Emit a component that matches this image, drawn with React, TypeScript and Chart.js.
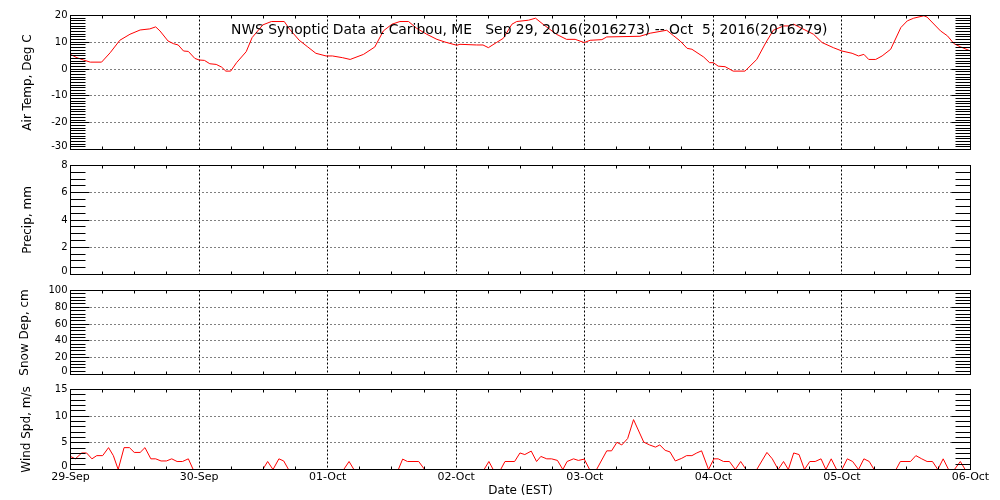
import React, { useEffect, useRef } from "react";
import { Chart, registerables } from "chart.js";
Chart.register(...registerables);

// ---------------- DATA ----------------
const chartTitle = "NWS Synoptic Data at Caribou, ME   Sep 29, 2016(2016273) -- Oct  5, 2016(2016279)";
const xAxisTitle = "Date (EST)";
const dayLabels = ["29-Sep", "30-Sep", "01-Oct", "02-Oct", "03-Oct", "04-Oct", "05-Oct", "06-Oct"];

// hours since 29-Sep 00:00 EST
const tempHours = [
  0, 1.2, 2.4, 3.7, 5.8, 7.4, 9.2, 11.1, 13, 14.8, 15.9, 16.7, 18.2, 19.2, 20.1, 21.1, 22, 23.2,
  24, 25, 26, 27.2, 28.2, 29, 29.9, 31, 32.8, 33.9, 35.9, 37.5, 39.9, 40.9, 42.7, 44.3, 45.8, 47.7,
  48.9, 50.8, 52.2, 54.7, 56.8, 58.4, 60, 61.5, 63.1, 64.6, 66.5, 68.4, 69.9,
  72.1, 72.7, 75.8, 77, 78, 79.5, 80.8, 82.4, 83.3, 85.5, 86.8, 88.2, 90.7, 92.6, 94.2, 95.9,
  97, 99.2, 100.1, 106.3, 108.2, 111.3, 112.6, 113.8, 115.1, 116, 118.2, 119.3,
  120, 120.9, 122.2, 123.7, 125.9, 128.1, 129.8, 131.2, 133.1, 134, 135, 136.2, 138.7, 140.3, 142.4,
  144, 145.9, 147.1, 148.1, 149, 150.3, 151.5, 153.1, 155, 156.2, 157.4, 159.3, 159.9, 162.4, 163.7, 164.9, 166.2, 168,
];
const tempValues = [
  5.5, 4.25, 3.4, 2.6, 2.6, 6.1, 10.75, 13, 14.6, 15, 15.75, 14.25, 10.5, 9.5, 9, 6.75, 6.6, 4,
  3.4, 3.25, 2, 1.75, 0.75, -0.75, -0.75, 2.4, 6.5, 11.75, 16.5, 17.75, 17.75, 14.9, 10.75, 8.25, 5.9, 4.9,
  4.9, 4.25, 3.6, 5.5, 8.25, 14.25, 16.75, 17.75, 17.75, 15.25, 13, 11.1, 10.1,
  8.9, 9.25, 9, 9, 8, 9.9, 11.5, 16.75, 17.75, 18.25, 19, 16.75, 13, 11.1, 11.1, 9.9,
  10.75, 11, 12, 12.25, 13.4, 14.5, 12.4, 10.5, 7.75, 7.4, 4.5, 2.4,
  2.4, 1.1, 0.9, -0.75, -0.75, 3.6, 9.9, 14.5, 16.1, 16.1, 16.75, 15.5, 13, 9.9, 8,
  6.75, 5.9, 4.9, 5.5, 3.6, 3.6, 4.9, 7.4, 15.5, 18, 19, 19.9, 19.4, 14.25, 12.4, 9.5, 8.25, 6.75,
];

const precipHours: number[] = [];
const precipValues: number[] = [];
const snowHours: number[] = [];
const snowValues: number[] = [];

const windHours = [
  0, 0.9, 2.1, 3, 4, 4.9, 6, 7.1, 8, 8.9, 10, 11, 11.9, 13, 13.9, 15, 15.9, 16.9, 17.9, 18.9, 19.9, 20.9, 22, 22.9,
  35.9, 36.8, 37.8, 38.9, 39.8, 40.7, 51, 52, 52.9, 61.2, 62, 62.9, 65, 66.1,
  77.2, 78.1, 78.9, 80.3, 81.1, 82.9, 83.9, 84.8, 86, 87, 87.8, 88.9, 89.8, 90.9, 91.9, 92.7, 93.9, 94.8, 95.9,
  96.9, 98.2, 100.1, 101, 102, 102.9, 104, 105.1, 107, 108.1, 109.2, 110, 111, 111.9, 112.9, 114.1, 115, 116,
  116.9, 117.8, 119.1, 120.1, 120.9, 121.9, 123, 124.1, 125.1, 126.1, 128.1, 130, 131, 132.1, 133.1, 134, 135,
  136, 137, 138, 139, 140.1, 141, 142, 143, 144, 145, 146, 147.1, 148.1, 149.1, 150, 154.1, 154.9, 156.8,
  157.8, 158.9, 159.9, 160.9, 161.9, 162.9, 163.9, 165, 166.1, 167, 168,
];
const windValues = [
  2.45, 2, 3.1, 3.1, 2, 2.6, 2.6, 4.1, 2.6, 0, 4.1, 4.1, 3.2, 3.2, 4.1, 2, 2, 1.6, 1.6, 2, 1.5, 1.5, 2, 0,
  0, 1.5, 0, 2, 1.6, 0, 0, 1.5, 0, 0, 1.95, 1.5, 1.5, 0,
  0, 1.5, 0, 0, 1.5, 1.5, 3.1, 2.8, 3.45, 1.5, 2.45, 2, 2, 1.7, 0, 1.5, 2, 1.7, 1.95,
  0, 0, 3.5, 3.5, 5.1, 4.6, 5.8, 9.35, 5.15, 4.6, 4.2, 4.6, 3.6, 3.3, 1.6, 2.1, 2.6, 2.6,
  3.1, 3.5, 0, 2, 2, 1.5, 1.5, 0, 1.5, 0, 0, 3.2, 2, 0, 1.5, 0, 3.1,
  2.8, 0, 1.5, 1.5, 2, 0, 2, 0, 0, 2, 1.5, 0, 2, 1.5, 0, 0, 1.5, 1.5,
  2.6, 2, 1.5, 1.5, 0, 2, 0, 0, 1.5, 0, 0,
];

const tempTicks = [-30, -20, -10, 0, 10, 20];
const precipTicks = [0, 2, 4, 6, 8];
const snowTicks = [0, 20, 40, 60, 80, 100];
const windTicks = [0, 5, 10, 15];

// ---------------- LAYOUT / STYLE ----------------
const FONT = "'DejaVu Sans', sans-serif";
const PLOT_LEFT = 70.5;
const PLOT_RIGHT = 970.5;
const HOURS_TOTAL = 168;

type PanelCfg = {
  top: number;
  bottom: number;
  ticks: number[];
  minorStep: number;
  yTitle: string;
  yTitleX: number;
  hours: number[];
  values: number[];
  showTitle?: boolean;
  showDates?: boolean;
};

const panels: PanelCfg[] = [
  { top: 15, bottom: 149, ticks: tempTicks, minorStep: 1, yTitle: "Air Temp, Deg C", yTitleX: 28, hours: tempHours, values: tempValues, showTitle: true },
  { top: 165, bottom: 274, ticks: precipTicks, minorStep: 0.5, yTitle: "Precip, mm", yTitleX: 28, hours: precipHours, values: precipValues },
  { top: 290, bottom: 374, ticks: snowTicks, minorStep: 4, yTitle: "Snow Dep, cm", yTitleX: 25, hours: snowHours, values: snowValues },
  { top: 389, bottom: 469, ticks: windTicks, minorStep: 1, yTitle: "Wind Spd, m/s", yTitleX: 27, hours: windHours, values: windValues, showDates: true },
];

function crisp(v: number) {
  return Math.floor(v) + 0.5;
}

function makePlugin(cfg: PanelCfg) {
  return {
    id: "idlAxes",
    beforeDatasetsDraw(chart: any) {
      const ctx: CanvasRenderingContext2D = chart.ctx;
      const xs = chart.scales.x;
      const ys = chart.scales.y;
      const area = chart.chartArea;
      const yMin = Math.min(...cfg.ticks);
      const yMax = Math.max(...cfg.ticks);
      ctx.save();
      ctx.strokeStyle = "#000";
      ctx.lineWidth = 1;
      ctx.setLineDash([1, 3]);
      for (const t of cfg.ticks) {
        if (t === yMin || t === yMax) continue;
        const y = crisp(ys.getPixelForValue(t));
        ctx.beginPath();
        ctx.moveTo(area.left, y);
        ctx.lineTo(area.right, y);
        ctx.stroke();
      }
      ctx.setLineDash([2, 2]);
      for (let d = 1; d < dayLabels.length - 1; d++) {
        const x = crisp(xs.getPixelForValue(d * 24));
        ctx.beginPath();
        ctx.moveTo(x, area.top);
        ctx.lineTo(x, area.bottom);
        ctx.stroke();
      }
      ctx.restore();
    },
    afterDatasetsDraw(chart: any) {
      const ctx: CanvasRenderingContext2D = chart.ctx;
      const xs = chart.scales.x;
      const ys = chart.scales.y;
      const area = chart.chartArea;
      const yMin = Math.min(...cfg.ticks);
      const yMax = Math.max(...cfg.ticks);
      const majorStep = cfg.ticks[1] - cfg.ticks[0];
      ctx.save();
      ctx.strokeStyle = "#000";
      ctx.fillStyle = "#000";
      ctx.lineWidth = 1;
      ctx.setLineDash([]);
      const L = crisp(area.left);
      const R = crisp(area.right);
      const T = crisp(area.top);
      const B = crisp(area.bottom);
      ctx.strokeRect(L, T, R - L, B - T);

      const n = Math.round((yMax - yMin) / cfg.minorStep);
      ctx.beginPath();
      for (let i = 1; i < n; i++) {
        const v = yMin + i * cfg.minorStep;
        const isMajor = Math.abs(v / majorStep - Math.round(v / majorStep)) < 1e-6;
        const len = isMajor ? 19 : 15;
        const y = crisp(ys.getPixelForValue(v));
        ctx.moveTo(L, y);
        ctx.lineTo(L + len, y);
        ctx.moveTo(R, y);
        ctx.lineTo(R - len, y);
      }
      for (let h = 6; h < HOURS_TOTAL; h += 6) {
        if (h % 24 === 0) continue;
        const x = crisp(xs.getPixelForValue(h));
        ctx.moveTo(x, T);
        ctx.lineTo(x, T + 3);
        ctx.moveTo(x, B);
        ctx.lineTo(x, B - 3);
      }
      ctx.stroke();

      ctx.font = `10px ${FONT}`;
      ctx.textAlign = "right";
      ctx.textBaseline = "middle";
      for (const t of cfg.ticks) {
        let y = ys.getPixelForValue(t);
        y = Math.min(y, area.bottom - 3.5);
        ctx.fillText(String(t), 67.5, y);
      }

      ctx.save();
      ctx.font = `12px ${FONT}`;
      ctx.translate(cfg.yTitleX, (area.top + area.bottom) / 2);
      ctx.rotate(-Math.PI / 2);
      ctx.textAlign = "center";
      ctx.textBaseline = "middle";
      ctx.fillText(cfg.yTitle, 0, 0);
      ctx.restore();

      if (cfg.showTitle) {
        ctx.font = `13px ${FONT}`;
        const w = ctx.measureText(chartTitle).width;
        const fs = (13 * 597) / w;
        ctx.font = `${fs.toFixed(2)}px ${FONT}`;
        ctx.textAlign = "left";
        ctx.textBaseline = "alphabetic";
        ctx.fillText(chartTitle, 231, 34);
      }

      if (cfg.showDates) {
        ctx.font = `11px ${FONT}`;
        ctx.textAlign = "center";
        ctx.textBaseline = "alphabetic";
        dayLabels.forEach((lab, d) => {
          const x = xs.getPixelForValue(d * 24);
          ctx.fillText(lab, x, 479.5);
        });
        ctx.font = `12px ${FONT}`;
        ctx.fillText(xAxisTitle, (area.left + area.right) / 2, 493.5);
      }
      ctx.restore();
    },
  };
}

function Panel({ cfg }: { cfg: PanelCfg }) {
  const ref = useRef<HTMLCanvasElement>(null);
  useEffect(() => {
    const canvas = ref.current;
    if (!canvas) return;
    const yMin = Math.min(...cfg.ticks);
    const yMax = Math.max(...cfg.ticks);
    const chart = new Chart(canvas, {
      type: "line",
      data: {
        datasets: [
          {
            data: cfg.hours.map((h, i) => ({ x: h, y: cfg.values[i] })),
            borderColor: "#ff0000",
            borderWidth: 1,
            pointRadius: 0,
            tension: 0,
            fill: false,
          },
        ],
      },
      options: {
        responsive: false,
        animation: false,
        devicePixelRatio: 1,
        events: [],
        layout: {
          padding: {
            left: PLOT_LEFT,
            right: 1000 - PLOT_RIGHT,
            top: cfg.top + 0.5,
            bottom: 500 - (cfg.bottom + 0.5),
          },
        },
        scales: {
          x: { type: "linear", min: 0, max: HOURS_TOTAL, display: false },
          y: { type: "linear", min: yMin, max: yMax, display: false },
        },
        plugins: { legend: { display: false }, tooltip: { enabled: false }, title: { display: false } },
      },
      plugins: [makePlugin(cfg)],
    } as any);
    return () => chart.destroy();
  }, [cfg]);
  return (
    <canvas
      ref={ref}
      width={1000}
      height={500}
      style={{ position: "absolute", left: 0, top: 0, width: 1000, height: 500 }}
    />
  );
}

export default function App() {
  return (
    <div style={{ position: "fixed", left: 0, top: 0, width: 1000, height: 500, background: "#fff", overflow: "hidden" }}>
      {panels.map((p, i) => (
        <Panel key={i} cfg={p} />
      ))}
    </div>
  );
}
